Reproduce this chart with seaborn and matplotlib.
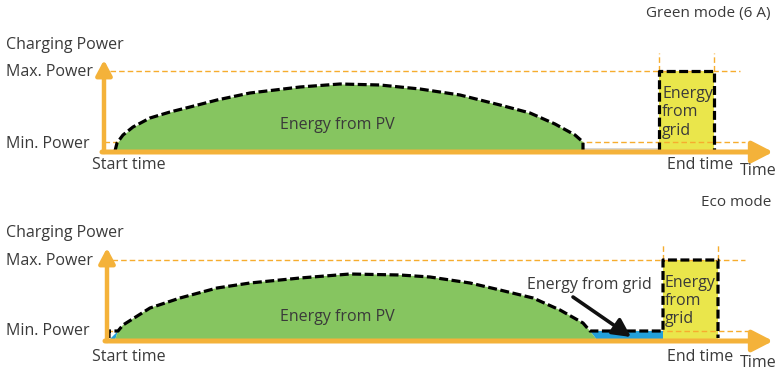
import matplotlib
matplotlib.use("Agg")
import matplotlib.pyplot as plt
import seaborn as sns

sns.set_theme(style="white")
plt.rcParams["font.family"] = ["Open Sans", "DejaVu Sans"]

# ---- data -------------------------------------------------------------
# Green mode (6 A): PV power curve (time units, power units)
green_pv_time = [11, 13, 19, 29, 46, 66, 86, 113, 146, 196, 236, 276, 316, 356, 396, 426, 451, 471, 479, 479]
green_pv_power = [0, 8, 16, 24, 33, 39, 44, 51, 58, 64, 67, 66, 62, 56, 46, 38, 27, 16, 9, 0]
green_max_power = 80
green_min_power = 9
green_end_window = [555, 610]

# Eco mode: PV power curve, topped up to the minimum power from the grid
eco_pv_time = [2, 2, 11, 16, 43, 73, 110, 143, 193, 243, 293, 323, 363, 393, 426, 453, 476, 483]
eco_pv_power = [0, 7, 7, 13, 30, 40, 50, 55, 60, 64, 63, 61, 55, 48, 40, 28, 15, 7]
eco_max_power = 78
eco_min_power = 7
eco_end_window = [556, 611]

power_labels = ["Max. Power", "Min. Power"]
time_labels = ["Start time", "End time", "Time"]
panel_titles = ["Green mode (6 A)", "Eco mode"]

# ---- style -------------------------------------------------------------
ORANGE = "#F4B23A"
ORANGE_DASH = "#F6AD2E"
GREEN = "#86C560"
YELLOW = "#EAE64B"
BLUE = "#22A0DA"
TEXT = "#3a3a3a"
FS = 11.5
OUTLINE = dict(color="black", linewidth=2.3, linestyle=(0, (2.8, 1.1)),
               sort=False, estimator=None, legend=False)
THIN_DASH = dict(color=ORANGE_DASH, linewidth=1.0, linestyle=(0, (4, 2.2)))

fig = plt.figure(figsize=(7.82, 3.71), dpi=100)
ax_top = fig.add_axes([0, 186 / 371, 1, 185 / 371])
ax_bot = fig.add_axes([0, 0, 1, 186 / 371])
ax_top.set_xlim(-104, 678)
ax_top.set_ylim(-34, 151)
ax_bot.set_xlim(-107, 675)
ax_bot.set_ylim(-33, 153)


def draw_axes_arrows(ax, y_tip, x_tip, base):
    arrow_y = dict(arrowstyle="-|>,head_length=0.45,head_width=0.24",
                   color=ORANGE, lw=3.2, shrinkA=0, shrinkB=0, mutation_scale=20)
    ax.annotate("", xy=(0, y_tip), xytext=(0, base), arrowprops=arrow_y, zorder=6)
    arrow_x = dict(arrowstyle="-|>,head_length=0.62,head_width=0.32",
                   color=ORANGE, lw=3.6, shrinkA=0, shrinkB=0, mutation_scale=20)
    ax.annotate("", xy=(x_tip, base), xytext=(-2, base), arrowprops=arrow_x, zorder=6)


def draw_labels(ax, title, title_xy, ylab_x, max_p, min_p, start_x, end_x, time_x, p_time, p_label):
    ax.text(title_xy[0], title_xy[1], title, ha="right", va="center", fontsize=FS - 0.5, color=TEXT)
    ax.text(ylab_x, p_label, "Charging Power", ha="left", va="center", fontsize=FS, color=TEXT)
    ax.text(ylab_x, max_p, power_labels[0], ha="left", va="center", fontsize=FS, color=TEXT)
    ax.text(ylab_x, min_p, power_labels[1], ha="left", va="center", fontsize=FS, color=TEXT)
    ax.text(start_x, p_time, time_labels[0], ha="left", va="center", fontsize=FS, color=TEXT)
    ax.text(end_x, p_time, time_labels[1], ha="left", va="center", fontsize=FS, color=TEXT)
    ax.text(time_x, p_time - 6, time_labels[2], ha="left", va="center", fontsize=FS, color=TEXT)


# ---- Green mode panel ---------------------------------------------------
ax = ax_top
t0, t1 = green_end_window
ax.fill_between([t0, t1], 0, green_max_power, color=YELLOW, lw=0, zorder=1)
ax.plot([6, 636], [green_max_power] * 2, zorder=2, **THIN_DASH)
ax.plot([0, 641], [green_min_power] * 2, zorder=2, **THIN_DASH)
for t in green_end_window:
    ax.plot([t, t], [green_max_power, 98], zorder=2, **THIN_DASH)
ax.fill_between(green_pv_time, green_pv_power, 0, color=GREEN, lw=0, zorder=3)
ax.plot([green_pv_time[-1], t0], [2.5, 2.5], color="#cfcfcf", lw=1.2, zorder=3)
sns.lineplot(x=green_pv_time, y=green_pv_power, ax=ax, zorder=4, **OUTLINE)
sns.lineplot(x=[t0, t0, t1, t1], y=[0, green_max_power, green_max_power, 0],
             ax=ax, zorder=4, **OUTLINE)
draw_axes_arrows(ax, 91, 669, -1)
ax.text(233, 26, "Energy from PV", ha="center", va="center", fontsize=FS, color=TEXT, zorder=5)
ax.text(558, 38.5, "Energy\nfrom\ngrid", ha="left", va="center", fontsize=FS,
        color=TEXT, linespacing=1.2, zorder=5)
draw_labels(ax, panel_titles[0], (667, 137), -98, 79, 7, -12, 563, 636, -14, 106)

# ---- Eco mode panel -----------------------------------------------------
ax = ax_bot
t0, t1 = eco_end_window
ax.fill_between([t0, t1], -2, eco_max_power, color=YELLOW, lw=0, zorder=1)
ax.plot([5, 638], [eco_max_power] * 2, zorder=2, **THIN_DASH)
ax.plot([0, 641], [eco_min_power] * 2, zorder=2, **THIN_DASH)
for t in eco_end_window:
    ax.plot([t, t], [eco_max_power, 95], zorder=2, **THIN_DASH)
# grid top-up below the minimum power
ax.fill([eco_pv_time[-1], t0, t0, eco_pv_time[-1] + 7],
        [eco_min_power, eco_min_power, -2, -2], color=BLUE, lw=0, zorder=3)
ax.fill([2, eco_pv_time[2], 8], [-2, eco_min_power, -2], color=BLUE, lw=0, zorder=3)
pv_fill_t = [8] + eco_pv_time[2:] + [eco_pv_time[-1] + 7]
pv_fill_p = [-2] + eco_pv_power[2:] + [-2]
ax.fill(pv_fill_t, pv_fill_p, color=GREEN, lw=0, zorder=3)
eco_outline_t = eco_pv_time + [t0, t0, t1, t1]
eco_outline_p = eco_pv_power + [eco_min_power, eco_max_power, eco_max_power, 0]
sns.lineplot(x=eco_outline_t, y=eco_outline_p, ax=ax, zorder=4, **OUTLINE)
draw_axes_arrows(ax, 90, 666, -3)
ax.text(230, 21, "Energy from PV", ha="center", va="center", fontsize=FS, color=TEXT, zorder=5)
ax.text(558, 37, "Energy\nfrom\ngrid", ha="left", va="center", fontsize=FS,
        color=TEXT, linespacing=1.2, zorder=5)
ax.text(482, 53, "Energy from grid", ha="center", va="center", fontsize=FS, color=TEXT, zorder=5)
ax.annotate("", xy=(524, 1), xytext=(466, 41), zorder=5,
            arrowprops=dict(arrowstyle="-|>,head_length=0.55,head_width=0.28", color="#111111",
                            lw=2.6, mutation_scale=20, shrinkA=0, shrinkB=0))
draw_labels(ax, panel_titles[1], (664, 135), -101, 77, 7, -15, 560, 633, -19, 105)

for a in (ax_top, ax_bot):
    a.axis("off")

fig.savefig("out.png", dpi=100)
